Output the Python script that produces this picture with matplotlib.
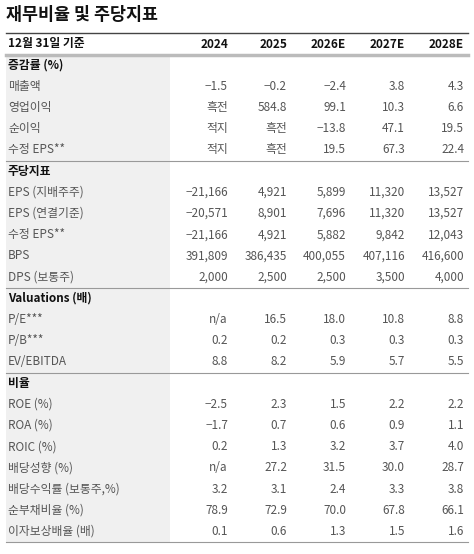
import matplotlib.pyplot as plt
from matplotlib.patches import Rectangle

plt.rcParams['font.family'] = ['Noto Sans CJK KR', 'DejaVu Sans']

title = '재무비율 및 주당지표'
columns = ['12월 31일 기준', '2024', '2025', '2026E', '2027E', '2028E']

sections = [
    ('증감률 (%)', [
        ('매출액', ['−1.5', '−0.2', '−2.4', '3.8', '4.3']),
        ('영업이익', ['흑전', '584.8', '99.1', '10.3', '6.6']),
        ('순이익', ['적지', '흑전', '−13.8', '47.1', '19.5']),
        ('수정 EPS**', ['적지', '흑전', '19.5', '67.3', '22.4']),
    ]),
    ('주당지표', [
        ('EPS (지배주주)', ['−21,166', '4,921', '5,899', '11,320', '13,527']),
        ('EPS (연결기준)', ['−20,571', '8,901', '7,696', '11,320', '13,527']),
        ('수정 EPS**', ['−21,166', '4,921', '5,882', '9,842', '12,043']),
        ('BPS', ['391,809', '386,435', '400,055', '407,116', '416,600']),
        ('DPS (보통주)', ['2,000', '2,500', '2,500', '3,500', '4,000']),
    ]),
    ('Valuations (배)', [
        ('P/E***', ['n/a', '16.5', '18.0', '10.8', '8.8']),
        ('P/B***', ['0.2', '0.2', '0.3', '0.3', '0.3']),
        ('EV/EBITDA', ['8.8', '8.2', '5.9', '5.7', '5.5']),
    ]),
    ('비율', [
        ('ROE (%)', ['−2.5', '2.3', '1.5', '2.2', '2.2']),
        ('ROA (%)', ['−1.7', '0.7', '0.6', '0.9', '1.1']),
        ('ROIC (%)', ['0.2', '1.3', '3.2', '3.7', '4.0']),
        ('배당성향 (%)', ['n/a', '27.2', '31.5', '30.0', '28.7']),
        ('배당수익률 (보통주,%)', ['3.2', '3.1', '2.4', '3.3', '3.8']),
        ('순부채비율 (%)', ['78.9', '72.9', '70.0', '67.8', '66.1']),
        ('이자보상배율 (배)', ['0.1', '0.6', '1.3', '1.5', '1.6']),
    ]),
]

W, H = 474, 554
fig = plt.figure(figsize=(W / 100, H / 100), dpi=100)
ax = fig.add_axes([0, 0, 1, 1])
ax.set_xlim(0, W)
ax.set_ylim(H, 0)
ax.axis('off')

col_x = [228, 287, 346, 405, 464]
left = 6
right = 468
row_h = 21.2
fs = 8.5

ax.text(left, 15, title, fontsize=12.5, fontweight='bold', va='center', color='#111111')
ax.plot([left, right], [33, 33], color='#444444', lw=1)
ax.text(left + 2, 44, columns[0], fontsize=fs, fontweight='bold', va='center', color='#111111')
for x, c in zip(col_x, columns[1:]):
    ax.text(x, 44, c, fontsize=fs, fontweight='bold', va='center', ha='right', color='#111111')
ax.plot([left, right], [55, 55], color='#bbbbbb', lw=2.5)

y = 54.5
for si, (name, rows) in enumerate(sections):
    n = len(rows) + 1
    ax.add_patch(Rectangle((left, y), 164, n * row_h, color='#f0f0f0', lw=0, zorder=0))
    yc = y + row_h / 2
    ax.text(left + 2, yc, name, fontsize=fs, fontweight='bold', va='center', color='#111111')
    for label, vals in rows:
        yc += row_h
        ax.text(left + 2, yc, label, fontsize=fs, va='center', color='#555555')
        for x, v in zip(col_x, vals):
            ax.text(x, yc, v, fontsize=fs, va='center', ha='right', color='#555555')
    y += n * row_h
    ax.plot([left, right], [y, y], color='#999999', lw=0.8)

fig.savefig('out.png', dpi=100)
